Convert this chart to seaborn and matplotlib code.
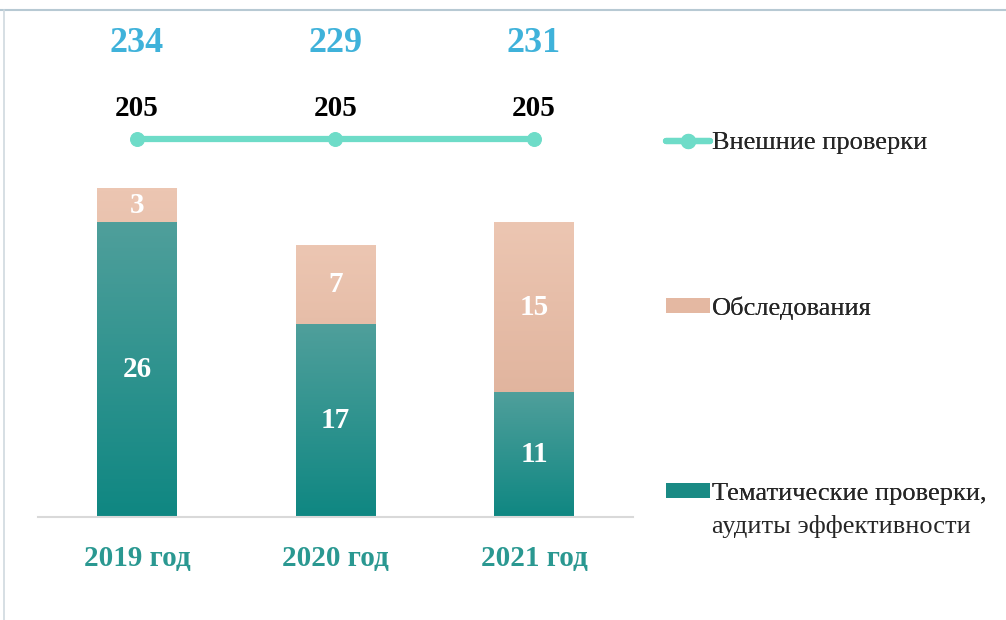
import numpy as np
import pandas as pd
import matplotlib
matplotlib.use("Agg")
import matplotlib.pyplot as plt
import matplotlib.transforms as mtransforms
from matplotlib.lines import Line2D
from matplotlib.patches import Patch
from matplotlib.colors import LinearSegmentedColormap
import seaborn as sns

# ---- data ----
years = ["2019 год", "2020 год", "2021 год"]
thematic = [26, 17, 11]
surveys = [3, 7, 15]
external = [205, 205, 205]
totals = [234, 229, 231]
series_names = ["Внешние проверки", "Обследования", "Тематические проверки,", "аудиты эффективности"]

sns.set_theme(style="white")
plt.rcParams["font.family"] = ["Liberation Serif", "DejaVu Serif"]

teal_top, teal_bot = "#4f9f9b", "#0f8782"
peach_top, peach_bot = "#ecc6b2", "#d9a890"
line_col = "#6edcc8"
blue_col = "#3fb2da"
tick_col = "#2a9891"

df = pd.DataFrame({"year": years, "thematic": thematic, "surveys": surveys})
df["stack"] = df["thematic"] + df["surveys"]

W, H = 1006, 620
fig = plt.figure(figsize=(W / 100, H / 100), dpi=100)
ax = fig.add_axes([37.75 / W, 103 / H, 595.5 / W, 507 / H])

sns.barplot(data=df, x="year", y="stack", color=peach_bot, width=0.4, ax=ax, saturation=1)
n_peach = len(ax.patches)
sns.barplot(data=df, x="year", y="thematic", color=teal_bot, width=0.4, ax=ax, saturation=1)

ax.set_xlim(-0.5, 2.5)
ax.set_ylim(0, 507 / 11.33)

# gradient fills
def grad(patch, ctop, cbot):
    x0, y0 = patch.get_x(), patch.get_y()
    w, h = patch.get_width(), patch.get_height()
    cmap = LinearSegmentedColormap.from_list("g", [cbot, ctop])
    img = np.linspace(0, 1, 100).reshape(-1, 1)
    im = ax.imshow(img, cmap=cmap, aspect="auto", origin="lower",
                   extent=(x0, x0 + w, y0, y0 + h), zorder=patch.get_zorder() + 0.1)
    im.set_clip_path(patch)

for i, p in enumerate(ax.patches):
    if i < n_peach:
        grad(p, peach_top, peach_bot)
    else:
        grad(p, teal_top, teal_bot)
ax.set_xlim(-0.5, 2.5)
ax.set_ylim(0, 507 / 11.33)

# segment labels
for i in range(len(years)):
    ax.text(i, thematic[i] / 2, str(thematic[i]), ha="center", va="center",
            color="white", fontsize=21, fontweight="bold", zorder=5)
    ax.text(i, thematic[i] + surveys[i] / 2, str(surveys[i]), ha="center", va="center",
            color="white", fontsize=21, fontweight="bold", zorder=5)

# axes styling
for s in ["top", "right", "left"]:
    ax.spines[s].set_visible(False)
ax.spines["bottom"].set_color("#d9d9d9")
ax.spines["bottom"].set_linewidth(1.5)
ax.set_yticks([])
ax.set_xlabel("")
ax.set_ylabel("")
ax.tick_params(axis="x", length=0, pad=20)
for t in ax.get_xticklabels():
    t.set_color(tick_col)
    t.set_fontsize(21)
    t.set_fontweight("bold")

# external line on twin axis
ax2 = ax.twinx()
frac = 378 / 507
span = 100
ax2.set_ylim(205 - frac * span, 205 + (1 - frac) * span)
ext_df = pd.DataFrame({"x": list(range(len(years))), "y": external})
sns.lineplot(data=ext_df, x="x", y="y", ax=ax2, color=line_col, linewidth=4.5,
             marker="o", markersize=10, markeredgecolor=line_col)
ax2.set_xlim(-0.5, 2.5)
ax2.axis("off")
for i, v in enumerate(external):
    ax2.annotate(str(v), (i, v), xytext=(0, 22), textcoords="offset points",
                 ha="center", va="center", fontsize=21, fontweight="bold", color="black")

trans = mtransforms.blended_transform_factory(ax.transData, ax.transAxes)
for i, v in enumerate(totals):
    ax.text(i, 473 / 507, str(v), transform=trans, ha="center", va="center",
            fontsize=26, fontweight="bold", color=blue_col)

# legend entries
h_line = Line2D([0], [0], color=line_col, lw=4.5, marker="o", markersize=10,
                markeredgecolor=line_col)
h_peach = Patch(facecolor="#e4b8a2", edgecolor="none")
h_teal = Patch(facecolor="#1a8a84", edgecolor="none")
entries = [(h_line, series_names[0], 143), (h_peach, series_names[1], 308),
           (h_teal, series_names[2], 494)]
for h, lab, yc in entries:
    lg = fig.legend(handles=[h], labels=[lab], loc="center left",
                    bbox_to_anchor=(666 / W, 1 - yc / H), frameon=False,
                    fontsize=19, handlelength=1.65, handleheight=0.5,
                    handletextpad=0.1, borderpad=0, borderaxespad=0)
    fig.add_artist(lg)
fig.text(712 / W, 1 - 526 / H, series_names[3], fontsize=19, ha="left", va="center",
         color="#262626")

# faint frame lines
fig.add_artist(Line2D([0, 1], [1 - 10 / H, 1 - 10 / H], transform=fig.transFigure,
                      color="#b7c9d3", lw=1.5))
fig.add_artist(Line2D([4 / W, 4 / W], [0, 1 - 10 / H], transform=fig.transFigure,
                      color="#cfd9df", lw=1.2))

fig.savefig("out.png", dpi=100)
